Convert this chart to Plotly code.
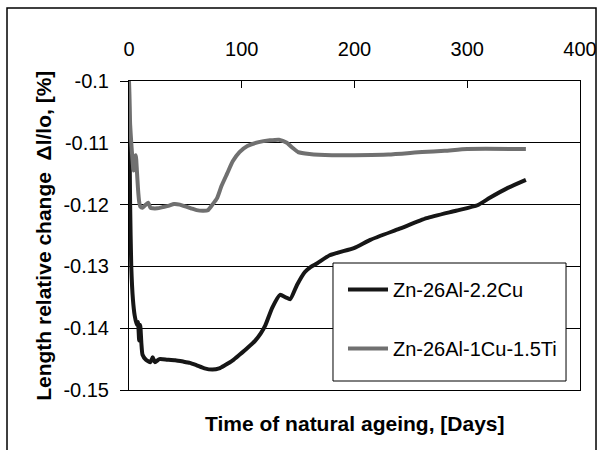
import plotly.graph_objects as go

# ---- data ----
days_cu = [0, 0.5, 1, 2, 3.5, 5, 7, 8, 9, 10, 11, 12, 15, 19, 21, 23, 27, 34, 41, 48, 54, 60, 67, 74, 80, 85, 92, 98, 105, 112,
           117, 121, 127, 134, 139, 143, 149, 156, 161, 167, 178, 200, 214, 240, 264, 290, 309, 320, 336, 352]
dl_cu = [-0.100, -0.110, -0.120, -0.130, -0.1354, -0.1379, -0.1395, -0.1390, -0.1420, -0.1395, -0.1425, -0.1443, -0.1451,
         -0.1455, -0.1447, -0.1455, -0.1450, -0.1451, -0.1452, -0.1454, -0.1456, -0.1460, -0.1465, -0.1467, -0.1465,
         -0.1460, -0.1452, -0.1443, -0.1432, -0.1420, -0.1408, -0.1395, -0.1367, -0.1346, -0.1350, -0.1353, -0.1330,
         -0.1309, -0.1301, -0.1295, -0.1282, -0.1270, -0.1257, -0.1239, -0.1222, -0.1210, -0.1201, -0.1189, -0.1173,
         -0.1160]

days_ti = [0, 0.5, 1, 2, 3, 4, 5, 6, 7, 8, 9, 10, 12, 15, 17, 19, 21, 25, 30, 35, 40, 45, 50, 55, 60, 66, 70, 74, 78, 82,
           87, 92, 98, 105, 115, 125, 133, 140, 145, 150, 160, 180, 200, 230, 260, 280, 300, 352]
dl_ti = [-0.100, -0.104, -0.107, -0.110, -0.1125, -0.1145, -0.1125, -0.1120, -0.1145, -0.1175, -0.1195, -0.1203, -0.1205,
         -0.1200, -0.1197, -0.1205, -0.1206, -0.1206, -0.1204, -0.1202, -0.1199, -0.1200, -0.1203, -0.1206, -0.1209,
         -0.1210, -0.1209, -0.1200, -0.1190, -0.1170, -0.1150, -0.1130, -0.1115, -0.1105, -0.1099, -0.1096, -0.1095,
         -0.1100, -0.1108, -0.1115, -0.1118, -0.1120, -0.1120, -0.1119, -0.1115, -0.1113, -0.1110, -0.1110]

series_names = ["Zn-26Al-2.2Cu", "Zn-26Al-1Cu-1.5Ti"]
x_ticks = [0, 100, 200, 300, 400]
y_ticks = [-0.15, -0.14, -0.13, -0.12, -0.11, -0.1]
y_tick_labels = ["-0.15", "-0.14", "-0.13", "-0.12", "-0.11", "-0.1"]

FONT = "Liberation Sans, Arial, sans-serif"

fig = go.Figure()
fig.add_trace(go.Scatter(x=days_cu, y=dl_cu, mode="lines", name=series_names[0], legendgroup="a",
                         line=dict(color="#161616", width=4, shape="spline", smoothing=0.5)))
fig.add_trace(go.Scatter(x=days_ti, y=dl_ti, mode="lines", name=series_names[1], legendgroup="b",
                         line=dict(color="#707070", width=4, shape="spline", smoothing=0.5)))

fig.update_layout(
    width=597, height=450,
    margin=dict(l=129, r=17, t=81, b=60, autoexpand=False),
    paper_bgcolor="white", plot_bgcolor="white",
    font=dict(family=FONT, size=20, color="black"),
    showlegend=True,
    legend=dict(x=0.4745, y=0.388, xanchor="left", yanchor="top",
                bgcolor="rgba(0,0,0,0)", borderwidth=0,
                font=dict(size=20), tracegroupgap=30, traceorder="grouped",
                itemwidth=40),
    xaxis=dict(range=[0, 400], side="top", tickvals=x_ticks, ticks="inside", ticklen=7,
               tickcolor="black", showgrid=False, zeroline=False, showline=True, mirror=True,
               linecolor="black", linewidth=1, ticklabelstandoff=16, automargin=False,
               tickfont=dict(size=20)),
    yaxis=dict(range=[-0.15, -0.1], tickvals=y_ticks, ticktext=y_tick_labels, ticks="outside", ticklen=8,
               tickcolor="black", showgrid=True, gridcolor="black", gridwidth=1, zeroline=False,
               showline=True, mirror=True, linecolor="black", linewidth=1, ticklabelstandoff=7,
               automargin=False, tickfont=dict(size=20)),
    annotations=[
        dict(text="<b>Time of natural ageing, [Days]</b>", xref="paper", yref="paper", x=0.5, y=-0.11,
             xanchor="center", yanchor="middle", showarrow=False, font=dict(size=21)),
        dict(text="<b>Length relative change  Δl/lo, [%]</b>", xref="paper", yref="paper", x=-0.19, y=0.5,
             xanchor="center", yanchor="middle", textangle=-90, showarrow=False, font=dict(size=21)),
    ],
    shapes=[
        # outer chart border
        dict(type="rect", xref="paper", yref="paper", x0=-0.2705, x1=1.0355, y0=-0.3, y1=1.2362,
             line=dict(color="black", width=1.5), fillcolor="rgba(0,0,0,0)", layer="below"),
        # legend box
        dict(type="rect", xref="paper", yref="paper", x0=0.4523, x1=0.969, y0=0.0291, y1=0.411,
             line=dict(color="black", width=1), fillcolor="white", layer="above"),
    ],
)

fig.write_html("out.html", config={"displayModeBar": False},
               post_script="document.body.style.margin='0px';document.body.style.overflow='hidden';")
